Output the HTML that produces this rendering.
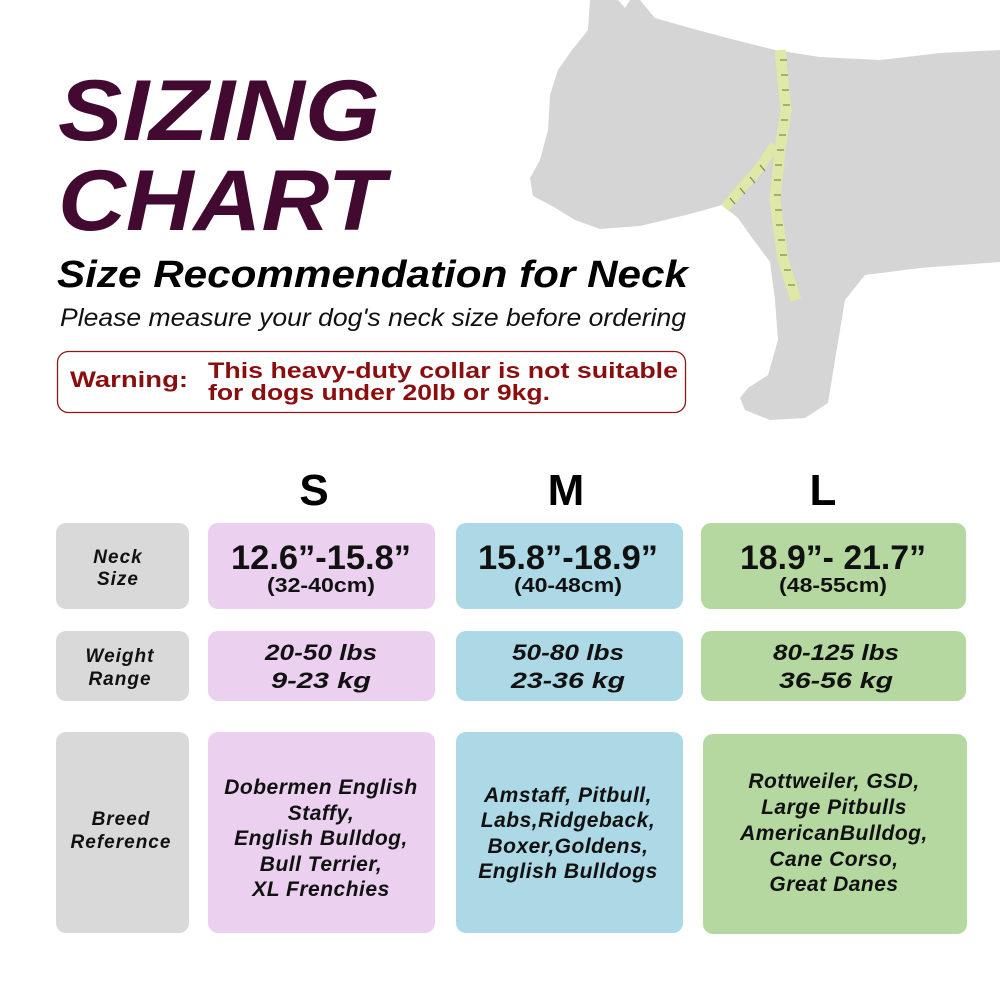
<!DOCTYPE html>
<html><head><meta charset="utf-8"><style>html,body{margin:0;padding:0;background:#fff}svg{display:block}</style></head>
<body>
<svg width="1000" height="1000" viewBox="0 0 1000 1000" xmlns="http://www.w3.org/2000/svg" font-family="'Liberation Sans', Arial, sans-serif">
<rect width="1000" height="1000" fill="#fff"/>
<path fill="#d5d5d5" d="M590,0 L588,30 L572,50 L558,70 L550,95 L548,130 L540,160 L530,178 L533,196 L552,206 L575,220 L600,229 L640,226 L690,214 L722,205 L738,218 L750,235 L770,262 L775,300 L778,340 L768,375 L748,388 L740,398 L745,410 L770,420 L805,418 L828,403 L835,360 L845,300 L865,275 L920,268 L1000,262 L1000,50 L940,53 L880,60 L820,57 L775,50 L735,40 L690,28 L655,18 L640,0 L630,0 L625,8 L618,0 Z"/>
<path d="M780,50 L786,110 L780,150 L775,200 L783,260 L796,300" stroke="#dfe8a6" stroke-width="11" fill="none"/>
<path d="M775,145 L758,170 L740,190 L725,208" stroke="#dfe8a6" stroke-width="10" fill="none"/>
<g stroke="#7a8a50" stroke-width="1.2">
<line x1="780" y1="60" x2="787" y2="60"/><line x1="781" y1="75" x2="788" y2="75"/><line x1="782" y1="90" x2="789" y2="90"/><line x1="783" y1="105" x2="790" y2="105"/><line x1="781" y1="120" x2="788" y2="120"/><line x1="779" y1="135" x2="786" y2="135"/><line x1="777" y1="150" x2="784" y2="150"/><line x1="775" y1="165" x2="782" y2="165"/><line x1="774" y1="180" x2="781" y2="180"/><line x1="774" y1="195" x2="781" y2="195"/><line x1="775" y1="210" x2="782" y2="210"/><line x1="776" y1="225" x2="783" y2="225"/><line x1="778" y1="240" x2="785" y2="240"/><line x1="780" y1="255" x2="787" y2="255"/><line x1="784" y1="270" x2="791" y2="270"/><line x1="788" y1="285" x2="795" y2="285"/>
<line x1="760" y1="165" x2="765" y2="171"/><line x1="750" y1="177" x2="755" y2="183"/><line x1="740" y1="188" x2="745" y2="194"/><line x1="730" y1="198" x2="735" y2="204"/>
</g>
<g fill="#420a30" font-weight="bold" font-style="italic">
<text x="58" y="140" font-size="86" textLength="322" lengthAdjust="spacingAndGlyphs">SIZING</text>
<text x="58" y="230" font-size="86" textLength="327" lengthAdjust="spacingAndGlyphs">CHART</text>
</g>
<text x="57" y="287" font-size="38" font-weight="bold" font-style="italic" fill="#000" textLength="631" lengthAdjust="spacingAndGlyphs">Size Recommendation for Neck</text>
<text x="60" y="326" font-size="25" font-style="italic" fill="#111" textLength="626" lengthAdjust="spacingAndGlyphs">Please measure your dog's neck size before ordering</text>
<rect x="57.5" y="351.5" width="628" height="61" rx="11" fill="#fff" stroke="#8b1a1a" stroke-width="1.3"/>
<g fill="#8b0e0e" font-weight="bold">
<text x="70" y="387" font-size="22" textLength="118" lengthAdjust="spacingAndGlyphs">Warning:</text>
<text x="208" y="378" font-size="22" textLength="470" lengthAdjust="spacingAndGlyphs">This heavy-duty collar is not suitable</text>
<text x="208" y="400" font-size="22" textLength="342" lengthAdjust="spacingAndGlyphs">for dogs under 20lb or 9kg.</text>
</g>
<g font-weight="bold" font-size="44" text-anchor="middle" fill="#000">
<text x="314" y="505">S</text><text x="566" y="505">M</text><text x="823" y="505">L</text>
</g>
<g>
<rect x="56" y="523" width="133" height="86" rx="10" fill="#d9d9d9"/>
<rect x="208" y="523" width="227" height="86" rx="10" fill="#ebd0f0"/>
<rect x="456" y="523" width="227" height="86" rx="10" fill="#add9e6"/>
<rect x="701" y="523" width="265" height="86" rx="10" fill="#b4d89f"/>
<rect x="56" y="631" width="133" height="70" rx="10" fill="#d9d9d9"/>
<rect x="208" y="631" width="227" height="70" rx="10" fill="#ebd0f0"/>
<rect x="456" y="631" width="227" height="70" rx="10" fill="#add9e6"/>
<rect x="701" y="631" width="265" height="70" rx="10" fill="#b4d89f"/>
<rect x="56" y="732" width="133" height="201" rx="10" fill="#d9d9d9"/>
<rect x="208" y="732" width="227" height="201" rx="10" fill="#ebd0f0"/>
<rect x="456" y="732" width="227" height="201" rx="10" fill="#add9e6"/>
<rect x="703" y="734" width="264" height="200" rx="10" fill="#b4d89f"/>
</g>
<g font-weight="bold" font-style="italic" text-anchor="middle" fill="#111" font-size="19" letter-spacing="1">
<text x="118" y="563">Neck</text><text x="118" y="585">Size</text>
<text x="120" y="662">Weight</text><text x="120" y="685">Range</text>
<text x="121" y="825">Breed</text><text x="121" y="848">Reference</text>
</g>
<g font-weight="bold" text-anchor="middle" fill="#111">
<text x="321" y="569" font-size="34" textLength="180" lengthAdjust="spacingAndGlyphs">12.6”-15.8”</text>
<text x="321" y="592" font-size="20" textLength="108" lengthAdjust="spacingAndGlyphs">(32-40cm)</text>
<text x="568" y="569" font-size="34" textLength="180" lengthAdjust="spacingAndGlyphs">15.8”-18.9”</text>
<text x="568" y="592" font-size="20" textLength="108" lengthAdjust="spacingAndGlyphs">(40-48cm)</text>
<text x="833" y="569" font-size="34" textLength="186" lengthAdjust="spacingAndGlyphs">18.9”- 21.7”</text>
<text x="833" y="592" font-size="20" textLength="108" lengthAdjust="spacingAndGlyphs">(48-55cm)</text>
</g>
<g font-weight="bold" font-style="italic" text-anchor="middle" fill="#111" font-size="22">
<text x="321" y="660" textLength="112" lengthAdjust="spacingAndGlyphs">20-50 lbs</text><text x="321" y="688" textLength="100" lengthAdjust="spacingAndGlyphs">9-23 kg</text>
<text x="568" y="660" textLength="112" lengthAdjust="spacingAndGlyphs">50-80 lbs</text><text x="568" y="688" textLength="114" lengthAdjust="spacingAndGlyphs">23-36 kg</text>
<text x="836" y="660" textLength="126" lengthAdjust="spacingAndGlyphs">80-125 lbs</text><text x="836" y="688" textLength="114" lengthAdjust="spacingAndGlyphs">36-56 kg</text>
</g>
<g font-weight="bold" font-style="italic" text-anchor="middle" fill="#111" font-size="21" letter-spacing="0.5">
<text x="321" y="794">Dobermen English</text><text x="321" y="820">Staffy,</text><text x="321" y="845">English Bulldog,</text><text x="321" y="871">Bull Terrier,</text><text x="321" y="896">XL Frenchies</text>
<text x="568" y="802">Amstaff, Pitbull,</text><text x="568" y="827">Labs,Ridgeback,</text><text x="568" y="853">Boxer,Goldens,</text><text x="568" y="878">English Bulldogs</text>
<text x="834" y="788">Rottweiler, GSD,</text><text x="834" y="814">Large Pitbulls</text><text x="834" y="840">AmericanBulldog,</text><text x="834" y="866">Cane Corso,</text><text x="834" y="891">Great Danes</text>
</g>
</svg>
</body></html>
